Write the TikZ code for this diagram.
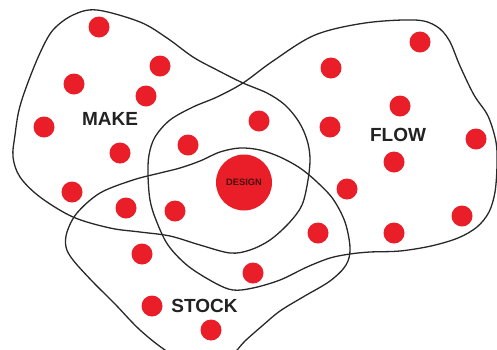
\documentclass[tikz,border=0pt]{standalone}
\usepackage{fontspec}
\setmainfont{Liberation Sans}
\begin{document}
\begin{tikzpicture}[x=1pt,y=-1pt,
  blob/.style={draw=linegray,line width=1.3pt},
  dot/.style={circle,fill=dotred,inner sep=0pt,minimum size=21pt},
  lbl/.style={font=\bfseries\fontsize{19}{19}\selectfont,text=labelgray,inner sep=0pt},
]
\definecolor{dotred}{RGB}{234,30,40}
\definecolor{linegray}{RGB}{40,40,40}
\definecolor{labelgray}{RGB}{34,34,34}
\definecolor{designtext}{RGB}{70,14,14}
\useasboundingbox[fill=white] (0,0) rectangle (497,349);

% MAKE blob
\draw[blob] plot[smooth cycle,tension=0.55] coordinates {
  (97,10) (140,22) (167,38) (193,57) (217,70) (243,83) (267,93) (285,105)
  (299,122) (307,140) (310,158) (308,180) (302,205) (289,223) (270,240) (250,250)
  (230,253) (200,245) (170,236) (140,232) (110,228) (73,217) (40,197) (20,177)
  (13,157) (15,135) (19,110) (27,85) (40,53) (53,30) (73,15)};

% FLOW blob
\draw[blob] plot[smooth cycle,tension=0.55] coordinates {
  (155,137) (170,120) (193,107) (217,97) (243,83) (273,61) (315,35) (365,23)
  (415,20) (436,26) (449,40) (460,66) (474,95) (488,116) (496,142)
  (497,165) (495,192) (489,212) (477,227) (458,238) (431,246) (400,251) (370,252)
  (350,254) (330,258) (307,267) (280,280) (253,288) (233,290) (215,283) (188,266)
  (168,245) (156,220) (150,200) (148,175) (149,155)};

% STOCK blob
\draw[blob] plot[smooth cycle,tension=0.55] coordinates {
  (67,232) (77,213) (100,193) (133,180) (160,173) (180,168) (200,161) (220,152)
  (240,148) (260,150) (280,157) (300,168) (317,182) (333,199) (345,222) (350,248)
  (346,265) (330,281) (303,297) (280,311) (262,326) (245,341) (230,356) (200,368)
  (168,352) (140,330) (115,304) (92,281) (73,260) (66,247)};

% dots
\node[dot] (d1) at (99,27) {};
\node[dot] (d2) at (160,66) {};
\node[dot] (d3) at (74,84) {};
\node[dot] (d4) at (146,96) {};
\node[dot] (d5) at (44,127) {};
\node[dot] (d6) at (120,153) {};
\node[dot] (d7) at (188,145) {};
\node[dot] (d8) at (72,192) {};
\node[dot] (d9) at (259,121) {};
\node[dot] (d10) at (126,208) {};
\node[dot] (d11) at (175,211) {};
\node[dot] (d12) at (142,254) {};
\node[dot] (d13) at (152,306) {};
\node[dot] (d14) at (211,330) {};
\node[dot] (d15) at (253,273) {};
\node[dot] (d16) at (331,68) {};
\node[dot] (d17) at (420,42) {};
\node[dot] (d18) at (400,106) {};
\node[dot] (d19) at (330,127) {};
\node[dot] (d20) at (476,139) {};
\node[dot] (d21) at (394,162) {};
\node[dot] (d22) at (347,189) {};
\node[dot] (d23) at (318,233) {};
\node[dot] (d24) at (394,233) {};
\node[dot] (d25) at (462,216) {};

% design
\node[circle,fill=dotred,inner sep=0pt,minimum size=56pt,
      font=\bfseries\fontsize{9.3}{9.3}\selectfont,text=designtext] (design) at (244,182.5) {DESIGN};

% labels
\node[lbl] (make) at (110,119) {MAKE};
\node[lbl] (flow) at (398,134.5) {FLOW};
\node[lbl] (stock) at (204.5,305.5) {STOCK};
\end{tikzpicture}
\end{document}
